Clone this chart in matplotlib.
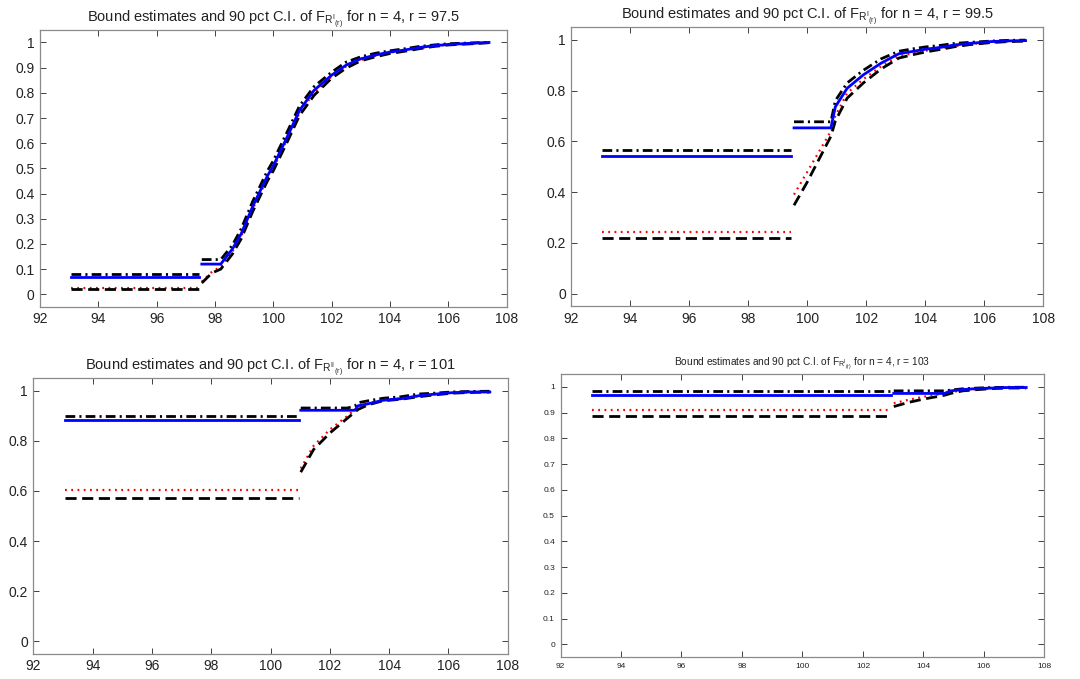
import matplotlib
matplotlib.use("Agg")
import matplotlib.pyplot as plt
import numpy as np

plt.rcParams['font.family'] = ['Liberation Sans', 'DejaVu Sans']
plt.rcParams['mathtext.default'] = 'regular'
plt.rcParams['lines.scale_dashes'] = False

# ---- panel data: flat part left of r, curve part right of r ----
r_vals = [97.5, 99.5, 101, 103]
sup = ['I', 'I', 'II', 'I']

left_x = [[93.05, 97.45], [93.05, 99.45], [93.08, 100.96], [93.03, 102.93]]
left_upper = [0.082, 0.565, 0.900, 0.983]
left_est = [0.068, 0.541, 0.884, 0.970]
left_red = [0.027, 0.242, 0.602, 0.911]
left_lower = [0.021, 0.220, 0.570, 0.889]

x1 = [97.55, 97.9, 98.2, 98.6, 98.9, 99.3, 99.8, 100.0, 100.5, 100.9, 101.4, 102.0,
      102.5, 103.0, 103.5, 104.0, 104.5, 105.0, 105.5, 106.0, 106.5, 107.0, 107.4]
est1 = [0.12, 0.12, 0.12, 0.18, 0.24, 0.35, 0.47, 0.51, 0.63, 0.73, 0.81, 0.87,
        0.91, 0.935, 0.95, 0.962, 0.97, 0.98, 0.987, 0.992, 0.995, 0.998, 1.0]
upper1 = [0.138, 0.138, 0.138, 0.195, 0.26, 0.37, 0.49, 0.53, 0.65, 0.748, 0.825, 0.882,
          0.922, 0.943, 0.957, 0.967, 0.975, 0.984, 0.99, 0.995, 0.997, 0.999, 1.0]
red1 = [0.05, 0.09, 0.11, 0.17, 0.23, 0.34, 0.46, 0.50, 0.62, 0.72, 0.80, 0.865,
        0.905, 0.93, 0.947, 0.96, 0.968, 0.978, 0.986, 0.991, 0.994, 0.997, 1.0]
lower1 = [0.045, 0.085, 0.10, 0.16, 0.22, 0.33, 0.45, 0.49, 0.61, 0.71, 0.79, 0.858,
          0.898, 0.927, 0.943, 0.956, 0.965, 0.975, 0.984, 0.99, 0.993, 0.996, 0.999]

x2 = [99.55, 100.0, 100.4, 100.8, 100.95, 101.35, 101.9, 102.5, 103.1, 103.6, 104.0,
      104.5, 105.0, 105.5, 106.2, 106.8, 107.4]
est2 = [0.653, 0.653, 0.653, 0.653, 0.736, 0.809, 0.862, 0.908, 0.945, 0.955, 0.963,
        0.97, 0.98, 0.986, 0.993, 0.996, 0.997]
upper2 = [0.677, 0.677, 0.677, 0.677, 0.76, 0.83, 0.88, 0.925, 0.955, 0.965, 0.972,
          0.978, 0.986, 0.99, 0.995, 0.998, 0.999]
red2 = [0.39, 0.48, 0.56, 0.64, 0.70, 0.79, 0.845, 0.895, 0.935, 0.948, 0.957,
        0.965, 0.975, 0.983, 0.99, 0.994, 0.996]
lower2 = [0.348, 0.44, 0.53, 0.62, 0.68, 0.77, 0.83, 0.885, 0.928, 0.942, 0.952,
          0.962, 0.973, 0.981, 0.989, 0.993, 0.995]

x3 = [101.02, 101.45, 102.0, 102.6, 102.85, 102.95, 103.3, 103.8, 104.4, 105.0, 105.5,
      106.1, 106.7, 107.4]
est3 = [0.922, 0.922, 0.922, 0.922, 0.922, 0.94, 0.948, 0.962, 0.968, 0.98, 0.986,
        0.992, 0.995, 0.995]
upper3 = [0.931, 0.931, 0.931, 0.931, 0.94, 0.952, 0.96, 0.97, 0.976, 0.987, 0.99,
          0.995, 0.997, 0.998]
red3 = [0.69, 0.78, 0.845, 0.90, 0.925, 0.935, 0.95, 0.963, 0.97, 0.978, 0.985,
        0.99, 0.994, 0.995]
lower3 = [0.675, 0.765, 0.831, 0.891, 0.915, 0.925, 0.944, 0.96, 0.966, 0.976, 0.983,
          0.99, 0.993, 0.995]

x4 = [103.02, 103.5, 104.0, 104.7, 104.9, 105.3, 105.8, 106.3, 106.8, 107.4]
est4 = [0.975, 0.975, 0.975, 0.975, 0.985, 0.99, 0.994, 0.996, 0.998, 0.998]
upper4 = [0.985, 0.985, 0.985, 0.985, 0.988, 0.993, 0.996, 0.998, 0.999, 0.999]
red4 = [0.937, 0.95, 0.962, 0.975, 0.98, 0.987, 0.992, 0.995, 0.997, 0.997]
lower4 = [0.924, 0.94, 0.953, 0.968, 0.975, 0.985, 0.99, 0.994, 0.996, 0.996]

right_x = [x1, x2, x3, x4]
right_est = [est1, est2, est3, est4]
right_upper = [upper1, upper2, upper3, upper4]
right_red = [red1, red2, red3, red4]
right_lower = [lower1, lower2, lower3, lower4]

# axes rectangles in figure fractions and per-panel text sizes
rects = [[0.037, 0.548, 0.432, 0.408],
         [0.529, 0.549, 0.437, 0.411],
         [0.031, 0.037, 0.439, 0.406],
         [0.519, 0.032, 0.448, 0.417]]
ystep = [0.1, 0.2, 0.2, 0.1]
tick_fs = [10, 10, 10, 6]
title_fs = [10.5, 10.5, 10.5, 7.3]

fig = plt.figure(figsize=(10.8, 6.79), dpi=100)

for i in range(4):
    ax = fig.add_axes(rects[i])
    lx = left_x[i]
    rx = right_x[i]
    # upper C.I. (dash-dot), estimate (blue), lower estimate (red dotted), lower C.I. (dashed)
    ax.plot(lx, [left_upper[i]] * 2, color='k', lw=2, dashes=(7, 3, 1.5, 3))
    ax.plot(rx, right_upper[i], color='k', lw=2, dashes=(7, 3, 1.5, 3))
    ax.plot(lx, [left_red[i]] * 2, color='r', lw=1.6, dashes=(1.3, 3.2))
    ax.plot(rx, right_red[i], color='r', lw=1.6, dashes=(1.3, 3.2))
    ax.plot(lx, [left_lower[i]] * 2, color='k', lw=2, dashes=(8, 4))
    ax.plot(rx, right_lower[i], color='k', lw=2, dashes=(8, 4))
    ax.plot(lx, [left_est[i]] * 2, color='b', lw=2)
    ax.plot(rx, right_est[i], color='b', lw=2)

    ax.set_xlim(92, 108)
    ax.set_ylim(-0.05, 1.05)
    ax.set_xticks(np.arange(92, 109, 2))
    yt = np.round(np.arange(0, 1.0001, ystep[i]), 1)
    ax.set_yticks(yt)
    ax.set_yticklabels(['%g' % v for v in yt])
    ax.tick_params(direction='in', top=True, right=True, length=4, width=0.6,
                   labelsize=tick_fs[i], colors='#222222', pad=4)
    for s in ax.spines.values():
        s.set_color('#8a8a8a')
        s.set_linewidth(0.9)
    ax.set_title(r'Bound estimates and 90 pct C.I. of F$_{R^{%s}{}_{(r)}}$ for n = 4, r = %g'
                 % (sup[i], r_vals[i]), fontsize=title_fs[i], color='#222222', pad=6)

fig.savefig('out.png', dpi=100)
